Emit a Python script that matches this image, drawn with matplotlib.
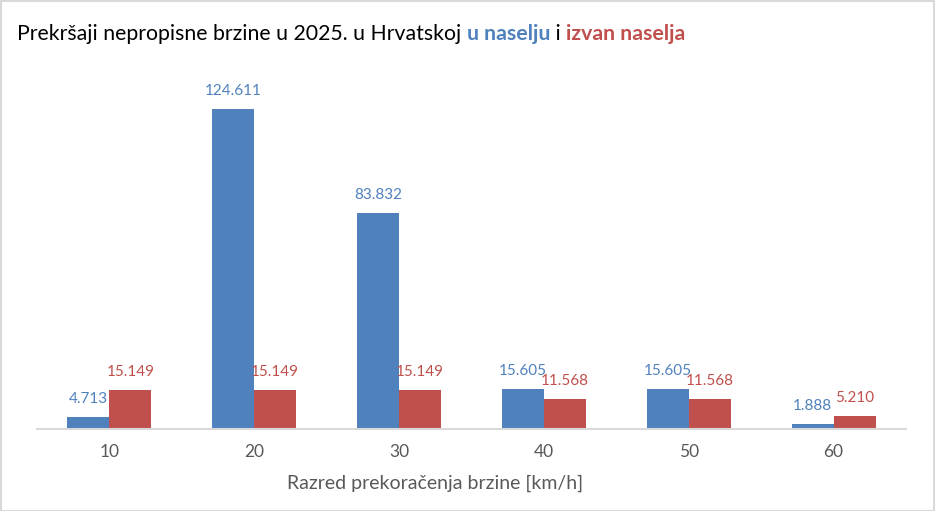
import matplotlib
matplotlib.use('Agg')
import matplotlib.pyplot as plt
import numpy as np
from matplotlib.patches import Rectangle

plt.rcParams['font.family'] = ['Lato', 'DejaVu Sans']

# podaci
razredi = ['10', '20', '30', '40', '50', '60']
u_naselju = [4713, 124611, 83832, 15605, 15605, 1888]
izvan_naselja = [15149, 15149, 15149, 11568, 11568, 5210]
u_labels = ['4.713', '124.611', '83.832', '15.605', '15.605', '1.888']
izvan_labels = ['15.149', '15.149', '15.149', '11.568', '11.568', '5.210']

c_blue = '#4F81BD'
c_red = '#C0504D'
c_txt = '#595959'

fig = plt.figure(figsize=(9.35, 5.11), dpi=100)
W, H = 935, 511
ax = fig.add_axes([37 / W, 1 - 429 / H, (906 - 37) / W, (429 - 60) / H])

x = np.arange(len(razredi))
w = 0.29
b1 = ax.bar(x - w / 2, u_naselju, w, color=c_blue)
b2 = ax.bar(x + w / 2, izvan_naselja, w, color=c_red)

for rect, lab in zip(b1, u_labels):
    ax.annotate(lab, (rect.get_x() + rect.get_width() / 2, rect.get_height()),
                xytext=(0, 13), textcoords='offset points', ha='center', va='center',
                color=c_blue, fontsize=11)
for rect, lab in zip(b2, izvan_labels):
    ax.annotate(lab, (rect.get_x() + rect.get_width() / 2, rect.get_height()),
                xytext=(0, 13), textcoords='offset points', ha='center', va='center',
                color=c_red, fontsize=11)

ax.set_xlim(-0.5, len(razredi) - 0.5)
ax.set_ylim(0, 143500)
ax.set_xticks(x)
ax.set_xticklabels(razredi, fontsize=12.5, color=c_txt)
ax.tick_params(axis='x', length=0, pad=11)
ax.set_yticks([])
for s in ['top', 'right', 'left']:
    ax.spines[s].set_visible(False)
ax.spines['bottom'].set_color('#D9D9D9')
ax.spines['bottom'].set_linewidth(1.5)
ax.set_xlabel('Razred prekoračenja brzine [km/h]', fontsize=14, color=c_txt)
ax.xaxis.set_label_coords((435 - 37) / (906 - 37), -(483 - 429) / (429 - 60))
ax.xaxis.label.set_va('center')

# naslov u više boja
dijelovi = [('Prekršaji nepropisne brzine u 2025. u Hrvatskoj ', 'black', 'normal'),
            ('u naselju', c_blue, 'bold'),
            (' i ', 'black', 'normal'),
            ('izvan naselja', c_red, 'bold')]
fig.canvas.draw()
r = fig.canvas.get_renderer()
xpos = 17 / W
for txt, col, fw in dijelovi:
    t = fig.text(xpos, 1 - 34 / H, txt, color=col, fontweight=fw, fontsize=15.3, va='center', ha='left')
    bb = t.get_window_extent(renderer=r)
    xpos += bb.width / W

# okvir
fig.patches.append(Rectangle((0.5 / W, 0.5 / H), 1 - 1.5 / W, 1 - 1.5 / H, transform=fig.transFigure,
                             fill=False, edgecolor='#D9D9D9', linewidth=1.5))

fig.savefig('out.png', dpi=100)
